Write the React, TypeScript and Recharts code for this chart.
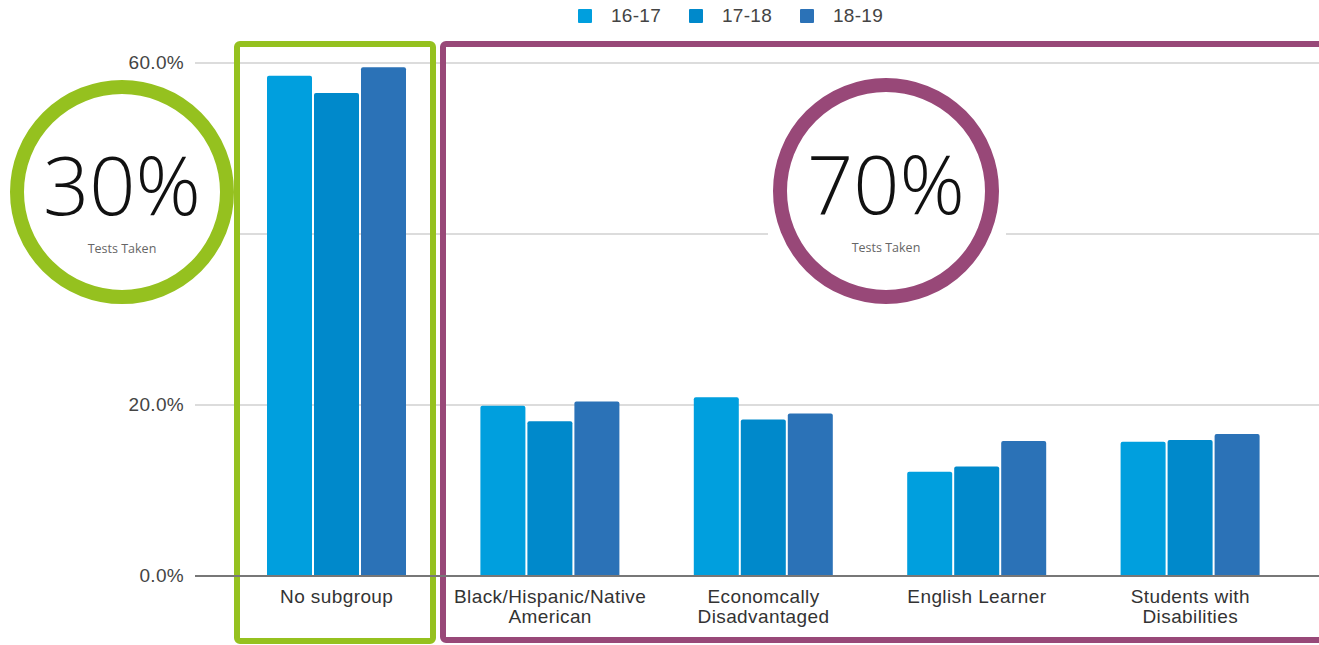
import React from "react";
import { BarChart, Bar, XAxis, YAxis, CartesianGrid, Customized } from "recharts";

const categories = [
  "No subgroup",
  "Black/Hispanic/Native\nAmerican",
  "Economcally\nDisadvantaged",
  "English Learner",
  "Students with\nDisabilities",
];
const s1617 = [58.5, 19.9, 20.9, 12.2, 15.7];
const s1718 = [56.5, 18.1, 18.3, 12.8, 15.9];
const s1819 = [59.5, 20.4, 19.0, 15.8, 16.6];
const seriesNames = ["16-17", "17-18", "18-19"];
const seriesColors = ["#009FDE", "#0089CB", "#2B72B7"];
const yTicks = [0, 20, 40, 60];

const data = categories.map((c, i) => ({
  name: c,
  "16-17": s1617[i],
  "17-18": s1718[i],
  "18-19": s1819[i],
}));

const FONT = "Liberation Sans, Arial, sans-serif";

const XTick = (props: any) => {
  const { x, y, payload } = props;
  const lines = String(payload.value).split("\n");
  return (
    <g transform={`translate(${x},${y})`}>
      {lines.map((l: string, i: number) => (
        <text key={i} x={0} y={19 + i * 20} textAnchor="middle" fontSize={19} letterSpacing={0.4} fill="#333" fontFamily={FONT}>
          {l}
        </text>
      ))}
    </g>
  );
};

const YTick = (props: any) => {
  const { x, y, payload } = props;
  if (payload.value === 40) return null;
  return (
    <text x={x} y={y + 6} textAnchor="end" fontSize={19} letterSpacing={0.3} fill="#444" fontFamily={FONT}>
      {payload.value.toFixed(1)}%
    </text>
  );
};

const legendX = [578, 689, 800];

const Overlay = () => (
  <g>
    {seriesNames.map((n, i) => (
      <g key={n}>
        <rect x={legendX[i]} y={9} width={14} height={14} rx={1} fill={seriesColors[i]} />
        <text x={legendX[i] + 33} y={22} fontSize={19} letterSpacing={0.3} fill="#444" fontFamily={FONT}>{n}</text>
      </g>
    ))}
    <rect x={0} y={72} width={234} height={235} fill="#fff" />
    <rect x={768} y={72} width={238} height={235} fill="#fff" />
    <circle cx={122} cy={192} r={105} fill="#fff" stroke="#95C11F" strokeWidth={14} />
    <text x={122} y={215} textAnchor="middle" fontSize={81} fontWeight={300} fill="#111" fontFamily="Open Sans, sans-serif">30%</text>
    <text x={122} y={253} textAnchor="middle" fontSize={12.5} fill="#666" fontFamily="Open Sans, sans-serif">Tests Taken</text>
    <circle cx={886} cy={191} r={106} fill="#fff" stroke="#984878" strokeWidth={14} />
    <text x={886} y={214} textAnchor="middle" fontSize={81} fontWeight={300} fill="#111" fontFamily="Open Sans, sans-serif">70%</text>
    <text x={886} y={252} textAnchor="middle" fontSize={12.5} fill="#666" fontFamily="Open Sans, sans-serif">Tests Taken</text>
    <rect x={237} y={44} width={196} height={597} rx={3} fill="none" stroke="#95C11F" strokeWidth={6} />
    <rect x={443} y={44} width={960} height={596} rx={3} fill="none" stroke="#984878" strokeWidth={6} />
  </g>
);

export default function App() {
  return (
    <div style={{ position: "absolute", left: 0, top: 0, background: "#fff" }}>
      <BarChart
        width={1319}
        height={645}
        data={data}
        margin={{ top: 63, right: 0, bottom: 0, left: 0 }}
        barCategoryGap={37}
        barGap={2}
      >
        <CartesianGrid horizontal vertical={false} stroke="#d0d0d0" strokeWidth={1.5} />
        <XAxis
          dataKey="name"
          interval={0}
          tick={<XTick />}
          tickLine={false}
          axisLine={{ stroke: "#777", strokeWidth: 2 }}
          padding={{ left: 35, right: 22 }}
          height={69}
        />
        <YAxis
          domain={[0, 60]}
          ticks={yTicks}
          width={195}
          tick={<YTick />}
          tickLine={false}
          axisLine={false}
          tickSize={0}
          tickMargin={11}
        />
        {seriesNames.map((n, i) => (
          <Bar key={n} dataKey={n} fill={seriesColors[i]} radius={[2, 2, 0, 0]} isAnimationActive={false} />
        ))}
        <Customized component={Overlay} />
      </BarChart>
    </div>
  );
}
